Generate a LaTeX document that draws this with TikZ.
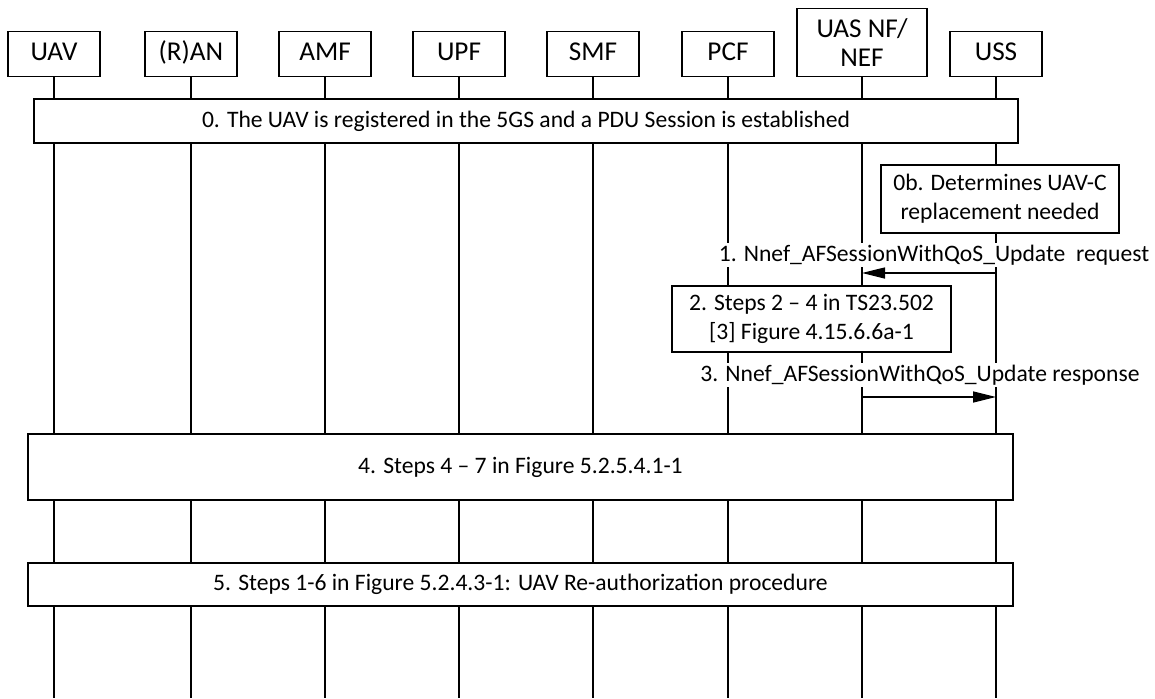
\documentclass[tikz,border=0pt]{standalone}
\usepackage{fontspec}
\setmainfont{Carlito}
\usetikzlibrary{arrows.meta}
\tikzset{h/.style={draw,line width=0.7pt,fill=white,font=\fontsize{13.6}{14.5}\selectfont,minimum height=22.5pt,minimum width=46pt,inner sep=1pt,align=center,anchor=south}}
\tikzset{hs/.style={h,text height=9.5pt,text depth=2.5pt}}
\tikzset{b/.style={draw,line width=0.7pt,fill=white,font=\fontsize{11.8}{14.5}\selectfont,align=center,inner sep=0pt}}
\tikzset{t/.style={fill=white,font=\fontsize{11.8}{11.8}\selectfont,inner sep=1pt}}
\tikzset{msg/.style={line width=0.7pt,-{Triangle[length=11.5pt,width=5.5pt]}}}

\begin{document}
\begin{tikzpicture}[x=0.5pt,y=-0.5pt,line width=0.7pt]
  \useasboundingbox (0,0) rectangle (1155,698);
  % entities
  \node[hs] (uav) at (54,77) {UAV};
  \node[hs] (ran) at (191,77) {(R)AN};
  \node[hs] (amf) at (325,77) {AMF};
  \node[hs] (upf) at (459,77) {UPF};
  \node[hs] (smf) at (593,77) {SMF};
  \node[hs] (pcf) at (728,77) {PCF};
  \node[h,minimum width=65pt,minimum height=34pt] (nef) at (862,77) {UAS NF/\\NEF};
  \node[hs] (uss) at (996,77) {USS};
  \coordinate (bot) at (0,698);
  \foreach \n in {uav,ran,amf,upf,smf,pcf,nef,uss}
    \draw (\n.south) -- (\n.south |- bot);
  % steps
  \node[b,minimum width=492pt,minimum height=22pt] (s0) at (526,121)
    {0. The UAV is registered in the 5GS and a PDU Session is established};
  \node[b,minimum width=119pt,minimum height=34pt] (s0b) at (1000,199)
    {0b. Determines UAV-C\\replacement needed};
  \coordinate (m1a) at (996,273);
  \coordinate (m1b) at (862,273);
  \node[t] (l1) at (934,255) {1. Nnef\_AFSessionWithQoS\_Update\ \ request};
  \draw[msg] (m1a) -- (m1b);
  \node[b,minimum width=139.5pt,minimum height=33pt] (s2) at (811.5,319)
    {2. Steps 2 -- 4 in TS23.502\\{[3]} Figure 4.15.6.6a-1};
  \coordinate (m3a) at (862,397);
  \coordinate (m3b) at (996,397);
  \node[t] (l3) at (920,375) {3. Nnef\_AFSessionWithQoS\_Update response};
  \draw[msg] (m3a) -- (m3b);
  \node[b,minimum width=492.5pt,minimum height=33pt] (s4) at (520.5,467)
    {4. Steps 4 -- 7 in Figure 5.2.5.4.1-1};
  \node[b,minimum width=492.5pt,minimum height=21.5pt] (s5) at (520.5,584.5)
    {5. Steps 1-6 in Figure 5.2.4.3-1: UAV Re-authorization procedure};
\end{tikzpicture}
\end{document}
